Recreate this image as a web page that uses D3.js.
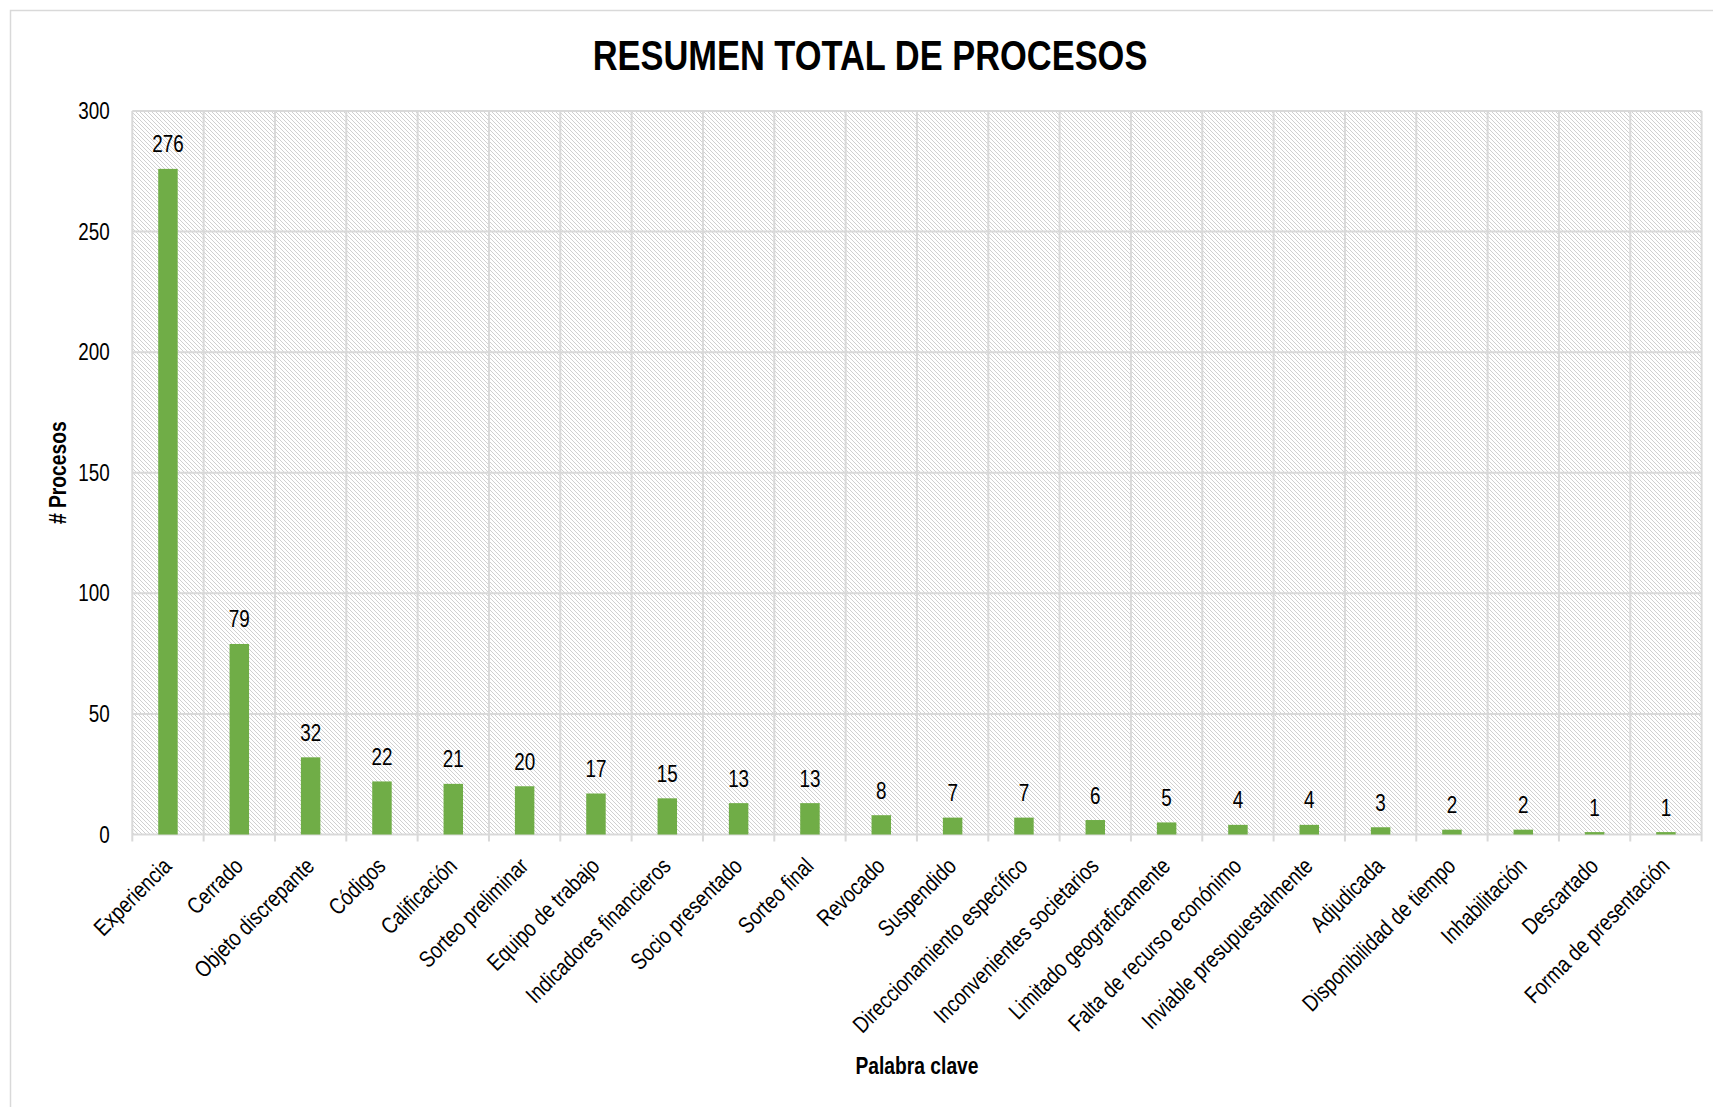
<!DOCTYPE html>
<html><head><meta charset="utf-8">
<script src="https://cdn.jsdelivr.net/npm/d3@7"></script>
<style>body{margin:0;background:#fff;} svg{display:block}</style>
</head><body>
<svg id="chart" width="1713" height="1107"></svg>
<script>
const categories = ["Experiencia","Cerrado","Objeto discrepante","Códigos","Calificación","Sorteo preliminar","Equipo de trabajo","Indicadores financieros","Socio presentado","Sorteo final","Revocado","Suspendido","Direccionamiento específico","Inconvenientes societarios","Limitado geograficamente","Falta de recurso econónimo","Inviable presupuestalmente","Adjudicada","Disponibilidad de tiempo","Inhabilitación","Descartado","Forma de presentación"];
const values = [276,79,32,22,21,20,17,15,13,13,8,7,7,6,5,4,4,3,2,2,1,1];
const yTicks = [0,50,100,150,200,250,300];
const chartTitle = "RESUMEN TOTAL DE PROCESOS";
const xTitle = "Palabra clave";
const yTitle = "# Procesos";

function hasFont(name){
  const c=document.createElement('canvas').getContext('2d');
  const s='abcdefghijklmnopqrstuvwxyz0123456789';
  c.font='40px monospace'; const a=c.measureText(s).width;
  c.font='40px "'+name+'", monospace'; const b=c.measureText(s).width;
  return Math.abs(a-b)>0.5;
}
const narrow = hasFont('Liberation Sans Narrow');
const FONT = narrow ? '"Liberation Sans Narrow", "Arial Narrow", sans-serif' : '"Liberation Sans", Arial, sans-serif';
const SX = narrow ? 1 : 0.82;

const svg = d3.select('#chart');
const W=1713, H=1107;
const plot = {left:132.3, right:1701.6, top:111, bottom:834.5};

// pattern
const defs = svg.append('defs');
const pat = defs.append('pattern').attr('id','hatch').attr('patternUnits','userSpaceOnUse')
  .attr('width',4).attr('height',4);
pat.append('rect').attr('width',4).attr('height',4).attr('fill','#ffffff');
[0,1,2,3].forEach(i=>pat.append('rect').attr('x',i).attr('y',i).attr('width',1).attr('height',1).attr('fill','#d0d0d0'));

// outer border
svg.append('rect').attr('x',10.5).attr('y',10.5).attr('width',W).attr('height',H)
  .attr('fill','none').attr('stroke','#d9d9d9').attr('stroke-width',1.5);

const x = d3.scaleBand().domain(categories).range([plot.left, plot.right]).paddingInner(0).paddingOuter(0);
const y = d3.scaleLinear().domain([0,300]).range([plot.bottom, plot.top]);

svg.append('rect').attr('x',plot.left).attr('y',plot.top)
  .attr('width',plot.right-plot.left).attr('height',plot.bottom-plot.top).attr('fill','url(#hatch)');

// horizontal gridlines
svg.append('g').selectAll('line').data(yTicks).join('line')
  .attr('x1',plot.left).attr('x2',plot.right).attr('y1',d=>y(d)).attr('y2',d=>y(d))
  .attr('stroke','#d9d9d9').attr('stroke-width',2);
// vertical gridlines / ticks
const edges = categories.map(c=>x(c)).concat([x.range()[1]]);
svg.append('g').selectAll('line').data(edges).join('line')
  .attr('x1',d=>d).attr('x2',d=>d).attr('y1',plot.top).attr('y2',plot.bottom+7)
  .attr('stroke','#d9d9d9').attr('stroke-width',2);

// bars
const bw = x.bandwidth()*0.273;
svg.append('g').selectAll('rect').data(values).join('rect')
  .attr('x',(d,i)=>x(categories[i])+x.bandwidth()/2-bw/2)
  .attr('y',d=>y(d)).attr('width',bw).attr('height',d=>y(0)-y(d))
  .attr('fill','#70ad47');

function txt(g, str, tx, ty, opts){
  const t = g.append('text')
    .attr('transform','translate('+tx+','+ty+')'+(opts.rot?' rotate('+opts.rot+')':'')+' scale('+SX+',1)')
    .attr('text-anchor',opts.anchor||'middle')
    .attr('font-family',FONT).attr('font-size',opts.size||23)
    .attr('font-weight',opts.bold?'bold':'normal').attr('fill','#000')
    .text(str);
  if(opts.dy) t.attr('dy',opts.dy);
  return t;
}

// data labels
const lg = svg.append('g');
values.forEach((v,i)=>txt(lg, String(v), x(categories[i])+x.bandwidth()/2, y(v)-16.5, {}));

// y tick labels
const yg = svg.append('g');
yTicks.forEach(t=>txt(yg, String(t), plot.left-22.5, y(t), {anchor:'end', dy:'0.35em'}));

// x labels
const xg = svg.append('g');
categories.forEach(c=>txt(xg, c, x(c)+x.bandwidth()/2+5, plot.bottom+33, {anchor:'end', rot:-45}));

// titles
txt(svg, chartTitle, 870, 70, {bold:true, size:42});
txt(svg, xTitle, (plot.left+plot.right)/2, 1073.5, {bold:true, size:23.5});
txt(svg, yTitle, 65.5, (plot.top+plot.bottom)/2, {bold:true, size:23.5, rot:-90});
</script>
</body></html>
